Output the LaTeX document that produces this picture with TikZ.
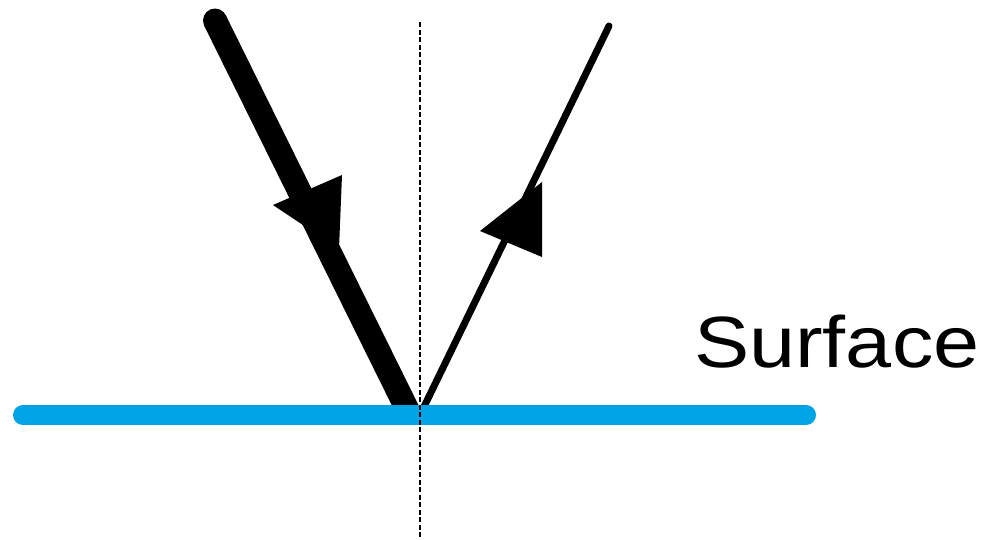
\documentclass[tikz,border=0pt]{standalone}
\usepackage{fontspec}
\setmainfont{Liberation Sans}
\definecolor{surfblue}{RGB}{0,163,228}
\begin{document}
\begin{tikzpicture}[x=1pt,y=-1pt,
  incident/.style={line width=24pt,line cap=butt},
  reflected/.style={line width=7pt,line cap=round},
  surfaceline/.style={line width=20pt,line cap=round,draw=surfblue},
  normalline/.style={line width=2.6pt,dash pattern=on 5pt off 2.5pt},
  headtri/.style={fill=black,draw=none}]
\useasboundingbox (0,0) rectangle (985,539);
% key points
\coordinate (inTop) at (215,20.5);
\coordinate (inBot) at (410,415);
\coordinate (reTop) at (609,26);
\coordinate (reBot) at (420,415);
\coordinate (nTop) at (420,22);
\coordinate (nBot) at (420,539);
\coordinate (sL) at (23,415);
\coordinate (sR) at (806,415);
% rays
\draw[incident] (inTop) -- (inBot);
\fill (inTop) circle[radius=12pt];
\draw[reflected] (reBot) -- (reTop);
% arrowheads
\fill[headtri] (342,175) -- (273,205) -- (339,249) -- cycle;
\fill[headtri] (542,182) -- (480,231) -- (542,257) -- cycle;
% surface
\draw[surfaceline] (sL) -- (sR);
% normal
\draw[normalline] (nTop) -- (nBot);
% label
\node[anchor=base west,inner sep=0pt] (lbl) at (694,367)
  {\scalebox{1.14}[1]{\fontsize{72.6}{80}\selectfont Surface}};
\end{tikzpicture}
\end{document}
